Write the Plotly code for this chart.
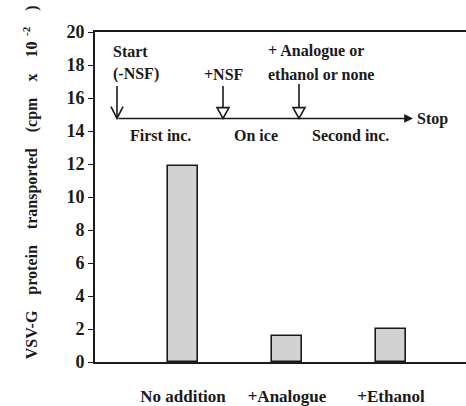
import plotly.graph_objects as go

categories = ["No addition", "+Analogue", "+Ethanol"]
values = [11.9, 1.6, 2.0]
y_ticks = [0, 2, 4, 6, 8, 10, 12, 14, 16, 18, 20]

FONT = "Liberation Serif"
INK = "#1a1a1a"
xpos = list(range(len(categories)))

fig = go.Figure()
fig.add_trace(go.Bar(
    x=xpos, y=values, width=0.29,
    marker=dict(color="#d2d2d2", line=dict(color=INK, width=1.6)),
    showlegend=False, hoverinfo="skip",
))

# pixel helpers for the inset diagram (plot area 95..466 x, 32..367 y)
X0, PXX = 183.0, 104.0
Y0, PXY = 367.0, 334.7 / 20.0
def dx(px):
    return (px - X0) / PXX
def dy(py):
    return (Y0 - py) / PXY

shapes = []
annots = []
# timeline
annots.append(dict(x=dx(413), y=dy(120), ax=dx(117), ay=dy(120), xref="x", yref="y",
                   axref="x", ayref="y", text="", showarrow=True, arrowhead=2,
                   arrowsize=1.1, arrowwidth=1.6, arrowcolor=INK))
# down arrows
for px, top, style in [(117, 87, "v"), (223, 87, "tri"), (299, 85, "tri")]:
    shapes.append(dict(type="line", xref="x", yref="y", x0=dx(px), x1=dx(px),
                       y0=dy(top), y1=dy(120), line=dict(color=INK, width=1.6)))
    if style == "v":
        path = f"M {dx(px-6)},{dy(108)} L {dx(px)},{dy(120)} L {dx(px+6)},{dy(108)}"
        shapes.append(dict(type="path", xref="x", yref="y", path=path,
                           line=dict(color=INK, width=1.6)))
    else:
        path = f"M {dx(px-6)},{dy(109)} L {dx(px)},{dy(120)} L {dx(px+6)},{dy(109)} Z"
        shapes.append(dict(type="path", xref="x", yref="y", path=path,
                           fillcolor="white", line=dict(color=INK, width=1.6)))

def txt(x, y, s, anchor="left"):
    annots.append(dict(x=dx(x), y=dy(y), xref="x", yref="y", text=s, showarrow=False,
                       xanchor=anchor, yanchor="middle",
                       font=dict(family=FONT, size=16, color=INK)))

txt(111, 52, "<b>Start</b>")
txt(111, 75, "<b>(-NSF)</b>")
txt(224, 75, "<b>+NSF</b>", "center")
txt(266, 52, "<b>+ Analogue or</b>")
txt(266, 75, "<b>ethanol or none</b>")
txt(415, 121, "<b>Stop</b>")
txt(160, 137, "<b>First inc.</b>", "center")
txt(256, 137, "<b>On ice</b>", "center")
txt(350, 137, "<b>Second inc.</b>", "center")

sp = "\u00a0" * 4
annots.append(dict(
    x=-0.175, y=0.545, xref="paper", yref="paper", textangle=-90, showarrow=False,
    xanchor="center", yanchor="middle",
    text=f"<b>VSV-G{sp}protein{sp}transported{sp}(cpm{sp}x{sp}10<sup>\u00a0\u00a0-2</sup>{sp})</b>",
    font=dict(family=FONT, size=16, color=INK),
))

fig.update_layout(
    width=466, height=406,
    margin=dict(l=95, r=0, t=32, b=39),
    paper_bgcolor="white", plot_bgcolor="white",
    bargap=0,
    shapes=shapes, annotations=annots,
    xaxis=dict(range=[dx(95), dx(466)], tickvals=xpos, ticktext=[f"<b>{c}</b>" for c in categories],
               showline=True, mirror=True, linecolor=INK, linewidth=1.6,
               ticks="", showgrid=False, zeroline=False, ticklabelstandoff=18,
               tickfont=dict(family=FONT, size=17, color=INK)),
    yaxis=dict(range=[0, 20], tickvals=y_ticks, ticktext=[f"<b>{v}</b>" for v in y_ticks],
               showline=True, linecolor=INK, linewidth=1.6,
               ticks="outside", ticklen=5, tickwidth=1.4, tickcolor=INK,
               showgrid=False, zeroline=False,
               tickfont=dict(family=FONT, size=18, color=INK)),
)

fig.write_html("out.html", config={"displayModeBar": False},
               post_script="document.body.style.margin='0';")
